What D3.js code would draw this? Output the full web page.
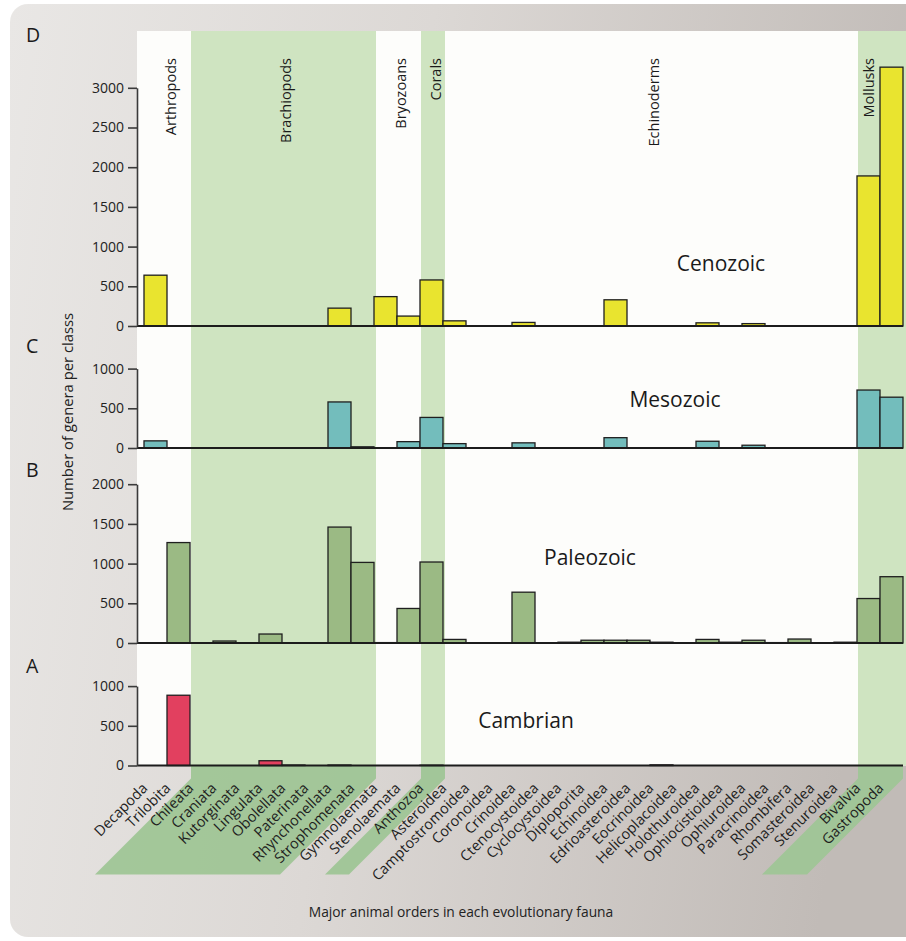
<!DOCTYPE html>
<html>
<head>
<meta charset="utf-8">
<script src="https://cdn.jsdelivr.net/npm/d3@7"></script>
<style>
  html, body { margin: 0; padding: 0; background: #ffffff; }
  svg { display: block; font-family: "Open Sans", "Noto Sans", sans-serif; }
</style>
</head>
<body>
<svg id="chart" width="906" height="941"></svg>
<script>
// Classes, in plotting order
const categories = [
  "Decapoda", "Trilobita", "Chileata", "Craniata", "Kutorginata", "Lingulata",
  "Obolellata", "Paterinata", "Rhynchonellata", "Strophomenata", "Gymnolaemata",
  "Stenolaemata", "Anthozoa", "Asteroidea", "Camptostromoidea", "Coronoidea",
  "Crinoidea", "Ctenocystoidea", "Cyclocystoidea", "Diploporita", "Echinoidea",
  "Edrioasteroidea", "Eocrinoidea", "Helicoplacoidea", "Holothuroidea",
  "Ophiocistioidea", "Ophiuroidea", "Paracrinoidea", "Rhombifera",
  "Somasteroidea", "Stenuroidea", "Bivalvia", "Gastropoda"
];

// Phyla and how many consecutive classes each one spans
const groupNames = ["Arthropods", "Brachiopods", "Bryozoans", "Corals", "Echinoderms", "Mollusks"];
const groupSizes = [2, 8, 2, 1, 18, 2];
const shadedGroups = ["Brachiopods", "Corals", "Mollusks"];

// Number of genera per class in each interval
const cenozoic = [640, 0, 0, 0, 0, 0, 0, 0, 225, 0, 370, 125, 580, 65, 0, 0, 45, 0, 0, 0,
  330, 0, 0, 0, 40, 0, 30, 0, 0, 0, 0, 1890, 3260];
const mesozoic = [90, 0, 0, 0, 0, 0, 0, 0, 580, 15, 0, 80, 385, 55, 0, 0, 65, 0, 0, 0,
  130, 0, 0, 0, 85, 0, 35, 0, 0, 0, 0, 730, 640];
const paleozoic = [0, 1265, 0, 25, 0, 113, 0, 0, 1460, 1015, 5, 435, 1020, 45, 0, 0, 640, 0, 10, 35,
  35, 35, 10, 0, 45, 10, 35, 5, 50, 0, 10, 560, 835];
const cambrian = [0, 885, 0, 0, 0, 60, 6, 0, 6, 0, 0, 0, 4, 0, 0, 0, 0, 0, 0, 0,
  0, 0, 8, 0, 0, 0, 0, 0, 0, 0, 0, 0, 0];

// Panel names, letters and y-axis ticks, top panel first
const eraNames = ["Cenozoic", "Mesozoic", "Paleozoic", "Cambrian"];
const panelLetters = ["D", "C", "B", "A"];
const ticksCenozoic = [0, 500, 1000, 1500, 2000, 2500, 3000];
const ticksMesozoic = [0, 500, 1000];
const ticksPaleozoic = [0, 500, 1000, 1500, 2000];
const ticksCambrian = [0, 500, 1000];

const yAxisTitle = "Number of genera per classs";
const xAxisTitle = "Major animal orders in each evolutionary fauna";

// ---------------------------------------------------------------------------
const W = 906, H = 941;
const svg = d3.select("#chart");

const series = [cenozoic, mesozoic, paleozoic, cambrian];
const tickSets = [ticksCenozoic, ticksMesozoic, ticksPaleozoic, ticksCambrian];
const fills = ["#e9e42f", "#73bdbc", "#9bba84", "#e2405f"];

// Layout of the stacked panels (baselines, labels)
const plotLeft = 137, plotRight = 906, plotTop = 31;
const pxPerGenus = 0.0794;
const panelLayout = [
  { base: 326,   letterY: 42,  titleX: 721, titleY: 271 },
  { base: 448,   letterY: 353, titleX: 675, titleY: 407 },
  { base: 643,   letterY: 477, titleX: 590, titleY: 565 },
  { base: 765.5, letterY: 673, titleX: 526, titleY: 728 }
];
const lastBase = panelLayout[3].base;

const x = d3.scaleBand().domain(categories).range([144, 903]).padding(0);
const bw = x.bandwidth();

// Background card with a soft horizontal gradient
const defs = svg.append("defs");
const grad = defs.append("linearGradient").attr("id", "cardGrad")
  .attr("x1", "0").attr("y1", "0").attr("x2", "1").attr("y2", "0.15");
grad.append("stop").attr("offset", "0").attr("stop-color", "#e9e7e5");
grad.append("stop").attr("offset", "0.45").attr("stop-color", "#dcd8d5");
grad.append("stop").attr("offset", "1").attr("stop-color", "#c1bbb7");

svg.append("rect").attr("x", 10).attr("y", 4).attr("width", W + 20).attr("height", H - 8)
  .attr("rx", 18).attr("fill", "url(#cardGrad)");

// White plotting field spanning all four panels
svg.append("rect").attr("x", plotLeft).attr("y", plotTop)
  .attr("width", plotRight - plotLeft).attr("height", lastBase - plotTop)
  .attr("fill", "#fdfdfb");

// Phylum extents along the category axis
let start = 0;
const groups = groupNames.map((g, i) => {
  const members = categories.slice(start, start + groupSizes[i]);
  start += groupSizes[i];
  const x0 = x(members[0]);
  const x1 = x(members[members.length - 1]) + bw;
  return { name: g, members, x0, x1 };
});

// Green shading for alternating phyla, continued below the axis as slanted strips
const shadeRight = g => g.name === "Mollusks" ? W : g.x1 + 2;
groups.filter(g => shadedGroups.includes(g.name)).forEach(g => {
  const a = g.x0 + 1, b = shadeRight(g);
  svg.append("rect").attr("x", a).attr("y", plotTop)
    .attr("width", b - a).attr("height", lastBase - plotTop)
    .attr("fill", "#cfe4c1");
  const knee = lastBase + 13, drop = 96;
  const rb = Math.min(b, 903);
  svg.append("path")
    .attr("d", `M${a},${lastBase} L${rb},${lastBase} L${rb},${knee} L${rb - drop},${knee + drop} ` +
      `L${a - drop},${knee + drop} L${a},${knee} Z`)
    .attr("fill", "#9fc596").attr("opacity", 0.95);
});

// Phylum names, written vertically at the top of the field
groups.forEach(g => {
  // the Mollusk name sits over Bivalvia so it clears the tall Gastropoda bar
  const cx = g.name === "Mollusks" ? x(g.members[0]) + bw / 2 : (g.x0 + g.x1) / 2 + 4;
  svg.append("text")
    .attr("transform", `translate(${cx},58) rotate(-90)`)
    .attr("text-anchor", "end")
    .attr("dy", "0.35em")
    .attr("font-size", 14.5)
    .attr("fill", "#1a1a1a")
    .text(g.name);
});

// Panels
series.forEach((vals, p) => {
  const L = panelLayout[p];
  const ticks = tickSets[p];
  const maxT = d3.max(ticks);
  const y = d3.scaleLinear().domain([0, maxT]).range([L.base, L.base - maxT * pxPerGenus]);
  const g = svg.append("g");

  g.selectAll("rect.bar")
    .data(categories.map((c, i) => ({ c, v: vals[i] })).filter(d => d.v > 0))
    .join("rect")
    .attr("class", "bar")
    .attr("x", d => x(d.c))
    .attr("y", d => y(d.v))
    .attr("width", bw)
    .attr("height", d => y(0) - y(d.v))
    .attr("fill", fills[p])
    .attr("stroke", "#1f1f1f")
    .attr("stroke-width", 1.3);

  // zero line across the field
  g.append("line")
    .attr("x1", plotLeft).attr("x2", 903)
    .attr("y1", y(0)).attr("y2", y(0))
    .attr("stroke", "#1c1c1c").attr("stroke-width", 2);

  const axis = d3.axisLeft(y).tickValues(ticks).tickFormat(d3.format("d"))
    .tickSize(9).tickSizeOuter(0).tickPadding(4);
  const ax = g.append("g").attr("transform", `translate(${plotLeft},0)`).call(axis);
  ax.select(".domain").attr("stroke", "#3a3a3a").attr("stroke-width", 1.6);
  ax.selectAll(".tick line").attr("stroke", "#3a3a3a").attr("stroke-width", 1.6);
  ax.selectAll(".tick text")
    .attr("font-family", "'Open Sans', sans-serif")
    .attr("font-size", 14).attr("fill", "#222");

  svg.append("text").attr("x", 26).attr("y", L.letterY)
    .attr("font-size", 19.5).attr("fill", "#1a1a1a").text(panelLetters[p]);

  svg.append("text").attr("x", L.titleX).attr("y", L.titleY)
    .attr("text-anchor", "middle")
    .attr("font-size", 21).attr("fill", "#1a1a1a").text(eraNames[p]);
});

// Slanted class names under the bottom panel
svg.append("g").selectAll("text")
  .data(categories)
  .join("text")
  .attr("transform", d => `translate(${x(d) + bw / 2 - 7},789) rotate(-45)`)
  .attr("text-anchor", "end")
  .attr("font-size", 14.5)
  .attr("fill", "#1e1e1e")
  .text(d => d);

// Axis titles
svg.append("text")
  .attr("transform", "translate(68,412) rotate(-90)")
  .attr("text-anchor", "middle").attr("dy", "0.35em")
  .attr("font-size", 14.8).attr("fill", "#222")
  .text(yAxisTitle);

svg.append("text").attr("x", 461).attr("y", 917)
  .attr("text-anchor", "middle")
  .attr("font-size", 13.8).attr("fill", "#222")
  .text(xAxisTitle);
</script>
</body>
</html>
